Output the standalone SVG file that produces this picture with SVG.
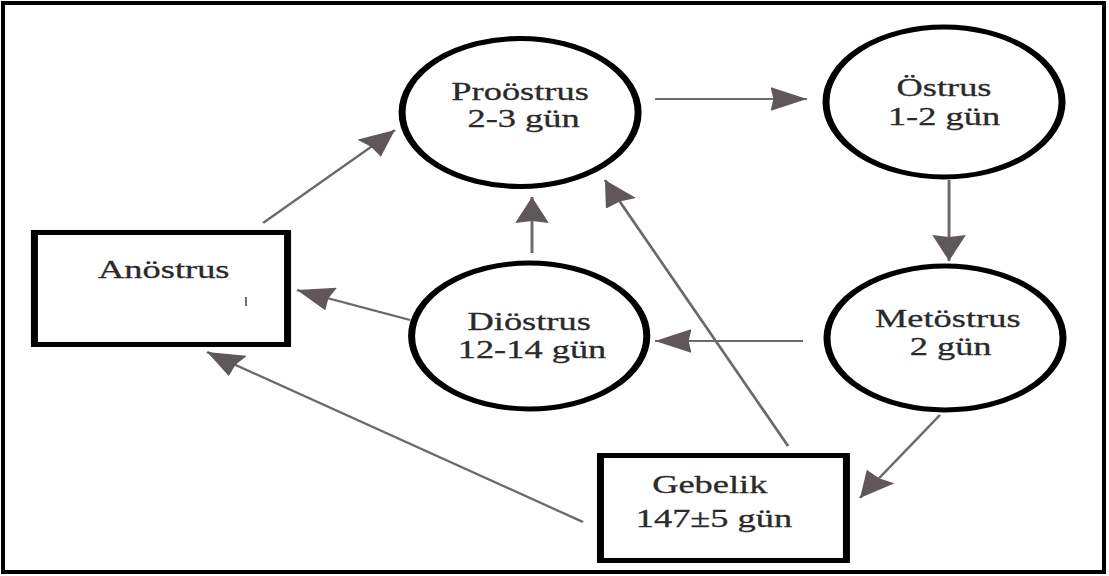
<svg xmlns="http://www.w3.org/2000/svg" width="1109" height="576" viewBox="0 0 1109 576">
<style>
.node{fill:#fff;stroke:#000;stroke-width:5}
.lbl{font-family:"Liberation Serif","Times New Roman",serif;font-size:26px;fill:#2a2a2a;stroke:#2a2a2a;stroke-width:0.3;text-anchor:middle}
.edge{stroke:#6a6a6a;stroke-width:2.1;fill:none;marker-end:url(#ah)}
</style>
<defs>
<marker id="ah" markerUnits="userSpaceOnUse" markerWidth="26" markerHeight="24" refX="26" refY="12" orient="auto" viewBox="0 0 26 24">
<path d="M0,0 L26,12 L0,24 L2,12 Z" fill="#5f5759"/>
</marker>
</defs>
<rect x="0" y="0" width="1109" height="576" fill="#fff"/>
<rect x="3" y="3" width="1101" height="569" fill="#fff" stroke="#000" stroke-width="4"/>
<g transform="scale(1.4,1)">
<g id="connectors">
<line class="edge" x1="187.9" y1="223" x2="282.1" y2="130"/>
<line class="edge" x1="467.9" y1="99" x2="576.4" y2="99"/>
<line class="edge" x1="677.9" y1="180" x2="677.9" y2="261"/>
<line class="edge" x1="573.6" y1="341" x2="467.9" y2="341"/>
<line class="edge" x1="292.9" y1="320" x2="212.1" y2="290"/>
<line class="edge" x1="380" y1="253" x2="380" y2="197"/>
<line class="edge" x1="562.9" y1="446" x2="432.1" y2="180"/>
<line class="edge" x1="671.4" y1="415" x2="614.3" y2="498"/>
<line class="edge" x1="416.4" y1="522" x2="147.9" y2="352"/>
</g>
<g id="proostrus">
<ellipse class="node" cx="371.5" cy="112.5" rx="84.3" ry="74"/>
<text class="lbl" x="371.5" y="100">Proöstrus</text>
<text class="lbl" x="374" y="127">2-3 gün</text>
</g>
<g id="ostrus">
<ellipse class="node" cx="674.3" cy="102" rx="84.3" ry="75"/>
<text class="lbl" x="674.3" y="96">Östrus</text>
<text class="lbl" x="674.3" y="125">1-2 gün</text>
</g>
<g id="metostrus">
<ellipse class="node" cx="675" cy="338" rx="84.3" ry="72"/>
<text class="lbl" x="677" y="327">Metöstrus</text>
<text class="lbl" x="679" y="355">2 gün</text>
</g>
<g id="diostrus">
<ellipse class="node" cx="378" cy="336" rx="84" ry="73"/>
<text class="lbl" x="378" y="330">Diöstrus</text>
<text class="lbl" x="380" y="358">12-14 gün</text>
</g>
<g id="anostrus">
<rect class="node" x="24.6" y="232.5" width="180.8" height="112"/>
<text class="lbl" x="117" y="278">Anöstrus</text>
<line x1="175.7" y1="297" x2="175.7" y2="306" stroke="#555" stroke-width="1.2"/>
</g>
<g id="gebelik">
<rect class="node" x="428.9" y="455.5" width="175.7" height="105"/>
<text class="lbl" x="507" y="493">Gebelik</text>
<text class="lbl" x="510" y="527">147±5 gün</text>
</g>
</g>
</svg>
